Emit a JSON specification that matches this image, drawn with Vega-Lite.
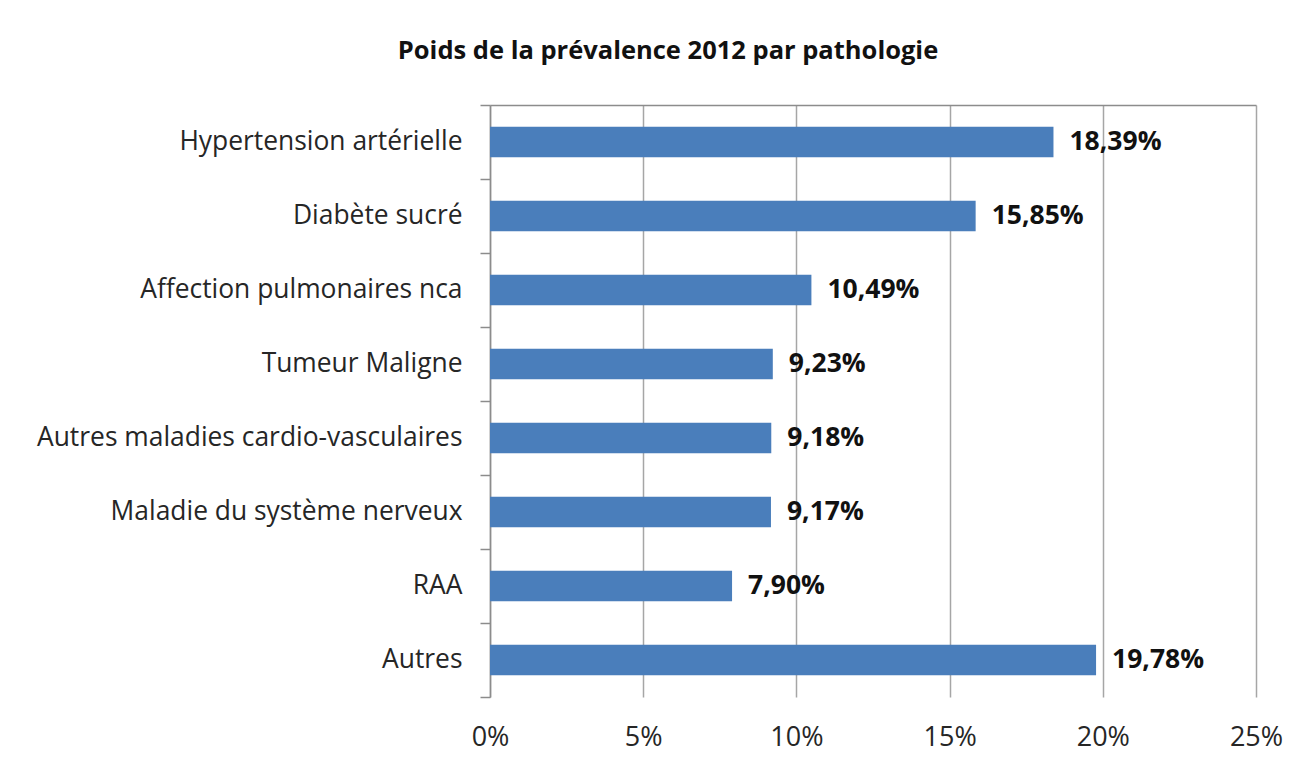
{
  "$schema": "https://vega.github.io/schema/vega-lite/v6.json",
  "autosize": {"type": "none"},
  "width": 766,
  "height": 592,
  "padding": {"left": 490, "top": 105, "right": 50, "bottom": 71},
  "background": "white",
  "config": {
    "view": {"stroke": null},
    "font": "Open Sans",
    "locale": {"number": {"decimal": ",", "thousands": " ", "grouping": [3], "currency": ["", " €"]}}
  },
  "title": {
    "text": "Poids de la prévalence 2012 par pathologie",
    "font": "Open Sans",
    "fontSize": 25.5,
    "fontWeight": "bold",
    "color": "#111111",
    "anchor": "middle",
    "dx": -205,
    "baseline": "alphabetic",
    "offset": 8
  },
  "data": {
    "values": [
      {"pathologie": "Hypertension artérielle", "part": 0.1839},
      {"pathologie": "Diabète sucré", "part": 0.1585},
      {"pathologie": "Affection pulmonaires nca", "part": 0.1049},
      {"pathologie": "Tumeur Maligne", "part": 0.0923},
      {"pathologie": "Autres maladies cardio-vasculaires", "part": 0.0918},
      {"pathologie": "Maladie du système nerveux", "part": 0.0917},
      {"pathologie": "RAA", "part": 0.079},
      {"pathologie": "Autres", "part": 0.1978}
    ]
  },
  "encoding": {
    "y": {
      "field": "pathologie",
      "type": "nominal",
      "sort": null,
      "scale": {"paddingInner": 0, "paddingOuter": 0},
      "axis": {
        "title": null,
        "bandPosition": 1,
        "tickExtra": true,
        "tickSize": 10,
        "tickColor": "#8c8c8c",
        "tickWidth": 1.5,
        "domainColor": "#8c8c8c",
        "domainWidth": 1.5,
        "grid": false,
        "labelFont": "Open Sans",
        "labelFontSize": 26.4,
        "labelColor": "#262626",
        "labelPadding": 18,
        "labelLimit": 600
      }
    },
    "x": {
      "field": "part",
      "type": "quantitative",
      "scale": {"domain": [0, 0.25], "nice": false},
      "axis": {
        "title": null,
        "orient": "bottom",
        "values": [0, 0.05, 0.1, 0.15, 0.2, 0.25],
        "format": ".0%",
        "domain": false,
        "ticks": false,
        "grid": true,
        "gridColor": "#a6a6a6",
        "gridWidth": 1.5,
        "labelFont": "Open Sans",
        "labelFontSize": 27,
        "labelColor": "#262626",
        "labelPadding": 27,
        "labelBaseline": "top",
        "labelFlush": false,
        "labelAlign": "center"
      }
    }
  },
  "layer": [
    {
      "mark": {"type": "bar", "color": "#4a7ebb", "height": {"band": 0.41}}
    },
    {
      "mark": {"type": "text", "align": "left", "baseline": "middle", "dx": 16, "fontWeight": "bold", "fontSize": 26.5, "font": "Open Sans", "color": "#111111"},
      "encoding": {
        "text": {"field": "part", "type": "quantitative", "format": ".2%"},
        "x": {
          "field": "part",
          "type": "quantitative",
          "axis": {"orient": "top", "title": null, "labels": false, "ticks": false, "grid": false, "domain": true, "domainColor": "#8c8c8c", "domainWidth": 1.5}
        }
      }
    }
  ],
  "resolve": {"axis": {"x": "independent"}}
}
